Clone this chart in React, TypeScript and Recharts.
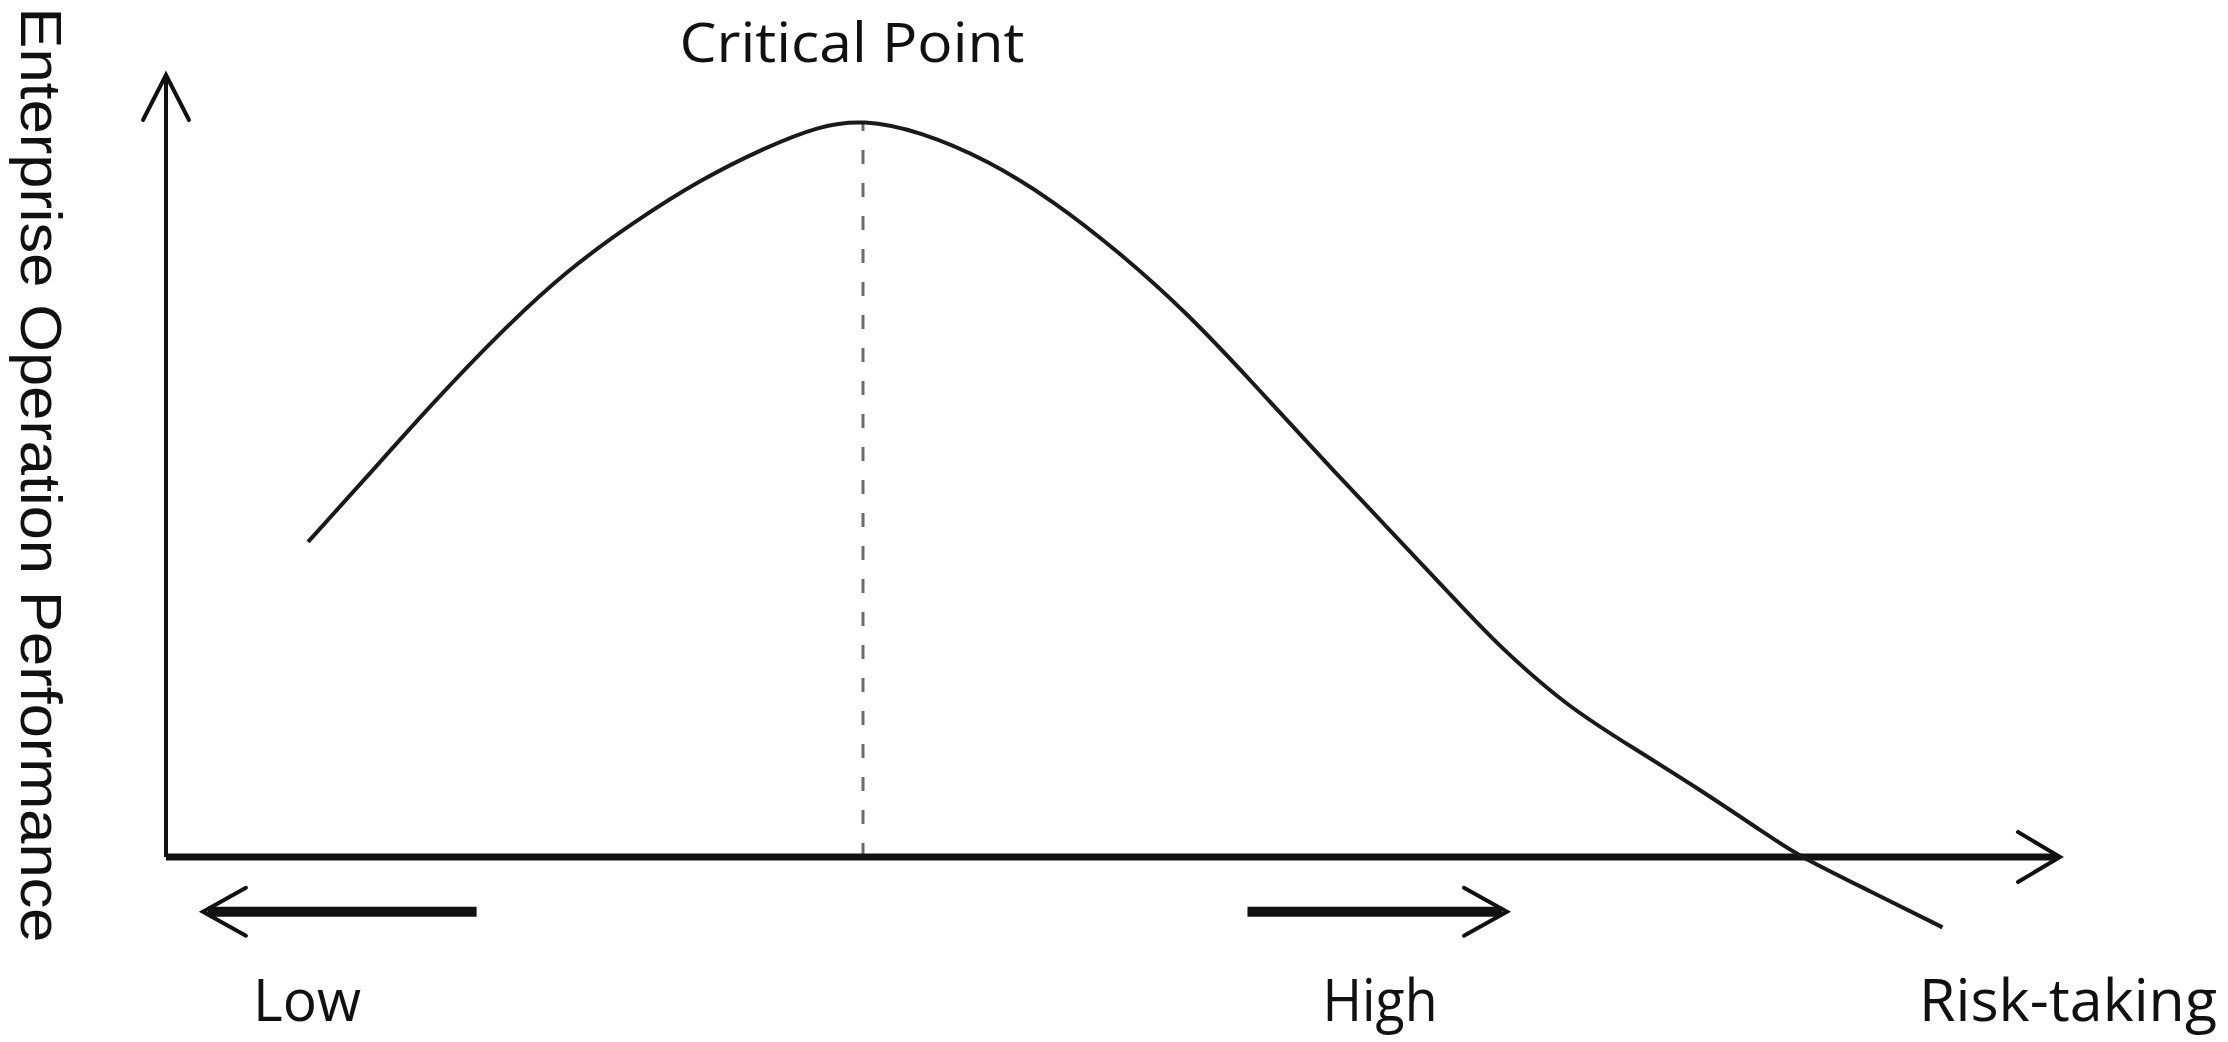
import { LineChart, Line, XAxis, YAxis, ReferenceLine } from 'recharts';

// risk-taking (x) vs enterprise operation performance (y)
const riskTaking = [
  7.5, 10.6, 14.1, 17.6, 21.2, 24.7, 28.2, 31.7, 34.5, 36.8, 39.8, 43.4, 46.8, 50.4,
  53.9, 57.4, 60.9, 64.5, 68.0, 70.4, 74.0, 77.5, 81.0, 84.5, 86.3, 90.0, 93.8,
];
const performance = [
  40.3, 48.6, 58.1, 67.0, 75.1, 81.2, 86.6, 90.8, 93.5, 94.3, 92.8, 89.1, 84.0, 77.2,
  69.6, 60.6, 51.3, 42.1, 33.1, 26.9, 19.2, 13.9, 8.6, 2.9, 0, -4.4, -9.0,
];

const CRITICAL_X = 36.8;
const CRITICAL_Y = 94;

// direction arrows under the axis: [from, to] in risk units
const lowArrow = [16.4, 1.95];
const highArrow = [57.1, 70.8];
const ARROW_LEVEL = -7;

const data = riskTaking.map((x, i) => ({ x, y: performance[i] }));

const INK = '#111';

// line with an open chevron head at (x2, y2)
function arrowShape(shaftWidth: number, headLen: number, headHalf: number, headWidth: number) {
  return (props: any) => {
    const { x1, y1, x2, y2 } = props;
    const dx = x2 - x1;
    const dy = y2 - y1;
    const len = Math.sqrt(dx * dx + dy * dy) || 1;
    const ux = dx / len;
    const uy = dy / len;
    const bx = x2 - ux * headLen;
    const by = y2 - uy * headLen;
    const px = -uy * headHalf;
    const py = ux * headHalf;
    const endX = x2 - ux * (shaftWidth / 2);
    const endY = y2 - uy * (shaftWidth / 2);
    return (
      <g>
        <line x1={x1} y1={y1} x2={endX} y2={endY} stroke={INK} strokeWidth={shaftWidth} />
        <polyline
          points={`${bx + px},${by + py} ${x2},${y2} ${bx - px},${by - py}`}
          fill="none"
          stroke={INK}
          strokeWidth={headWidth}
          strokeLinecap="round"
          strokeLinejoin="miter"
        />
      </g>
    );
  };
}

export default function App() {
  return (
    <div style={{ position: 'absolute', left: 0, top: 0, width: 2228, height: 1042, background: '#fff' }}>
      <LineChart
        width={2228}
        height={1042}
        data={data}
        margin={{ top: 75, right: 168, bottom: 28.6, left: 166 }}
      >
        <XAxis type="number" dataKey="x" domain={[0, 100]} hide allowDataOverflow />
        <YAxis type="number" domain={[-20, 100]} hide allowDataOverflow />
        <ReferenceLine
          segment={[{ x: CRITICAL_X, y: 0 }, { x: CRITICAL_X, y: CRITICAL_Y }]}
          stroke="#6b6b6b"
          strokeWidth={3}
          strokeDasharray="14 19"
        />
        <ReferenceLine
          segment={[{ x: 0, y: 0 }, { x: 100, y: 0 }]}
          shape={arrowShape(7, 42, 25, 4)}
        />
        <ReferenceLine
          segment={[{ x: 0, y: 0 }, { x: 0, y: 100 }]}
          shape={arrowShape(4, 45, 23, 4)}
        />
        <ReferenceLine
          segment={[{ x: lowArrow[0], y: ARROW_LEVEL }, { x: lowArrow[1], y: ARROW_LEVEL }]}
          shape={arrowShape(10, 43, 24, 4)}
        />
        <ReferenceLine
          segment={[{ x: highArrow[0], y: ARROW_LEVEL }, { x: highArrow[1], y: ARROW_LEVEL }]}
          shape={arrowShape(10, 43, 24, 4)}
        />
        <Line
          type="basis"
          dataKey="y"
          stroke="#1a1a1a"
          strokeWidth={4}
          dot={false}
          activeDot={false}
          isAnimationActive={false}
        />
      </LineChart>
      <svg
        width={2228}
        height={1042}
        style={{ position: 'absolute', left: 0, top: 0, pointerEvents: 'none' }}
      >
        <text
          x={21}
          y={475}
          transform="rotate(90, 21, 475)"
          textAnchor="middle"
          fontFamily="'Liberation Sans', Arial, sans-serif"
          fontSize={58}
          fill={INK}
          textLength={935}
          lengthAdjust="spacingAndGlyphs"
        >
          Enterprise Operation Performance
        </text>
        <text
          x={852}
          y={62}
          textAnchor="middle"
          fontFamily="'Open Sans', sans-serif"
          fontSize={55}
          fill={INK}
          textLength={345}
          lengthAdjust="spacingAndGlyphs"
        >
          Critical Point
        </text>
        <text
          x={307}
          y={1021}
          textAnchor="middle"
          fontFamily="'Open Sans', sans-serif"
          fontSize={59}
          fill={INK}
          textLength={108}
          lengthAdjust="spacingAndGlyphs"
        >
          Low
        </text>
        <text
          x={1380}
          y={1021}
          textAnchor="middle"
          fontFamily="'Open Sans', sans-serif"
          fontSize={59}
          fill={INK}
          textLength={115}
          lengthAdjust="spacingAndGlyphs"
        >
          High
        </text>
        <text
          x={1919}
          y={1021}
          textAnchor="start"
          fontFamily="'Open Sans', sans-serif"
          fontSize={59}
          fill={INK}
          textLength={298}
          lengthAdjust="spacingAndGlyphs"
        >
          Risk-taking
        </text>
      </svg>
    </div>
  );
}
